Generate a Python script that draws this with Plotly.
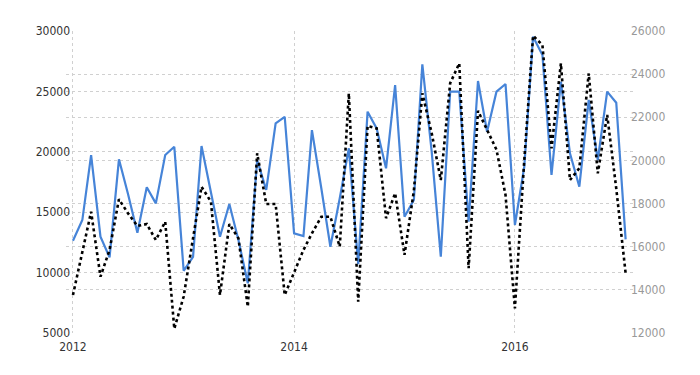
import plotly.graph_objects as go
import pandas as pd

months = pd.date_range("2012-01-01", "2017-01-01", freq="MS")

# Left axis series (blue, solid)
blue_values = [
    12640, 14350, 19730, 12970, 11260, 19380, 16500, 13300, 17060, 15730, 19730, 20420,
    10150, 11310, 20480, 16730, 12970, 15680, 12700, 9110, 19320, 16840, 22360, 22900,
    13250, 13030, 21800, 16980, 12140, 16150, 20290, 10700, 23320, 21940, 18630, 25530,
    14620, 16010, 27240, 20000, 11310, 24980, 24980, 14210, 25860, 21660, 24980, 25610,
    13940, 18760, 29530, 28010, 18080, 25800, 19870, 17110, 24290, 19320, 24980, 24060,
    12750,
]

# Right axis series (black, dotted)
black_values = [
    13760, 15690, 17620, 14610, 15850, 18200, 17550, 16960, 17050, 16310, 17160, 12200,
    13690, 16400, 18780, 18090, 13760, 17050, 16390, 13220, 20330, 17980, 17980, 13760,
    14800, 15850, 16620, 17390, 17390, 16000, 23110, 13450, 21600, 21490, 17320, 18480,
    15620, 18600, 23110, 21260, 19090, 23580, 24500, 15000, 22300, 21410, 20500, 18400,
    13140, 20020, 25780, 25350, 20560, 24500, 19090, 19640, 24040, 19400, 22110, 18700,
    14770,
]

left_ticks = [5000, 10000, 15000, 20000, 25000, 30000]
right_ticks = [12000, 14000, 16000, 18000, 20000, 22000, 24000, 26000]
x_ticks = ["2012-01-01", "2014-01-01", "2016-01-01"]
x_tick_labels = ["2012", "2014", "2016"]

FONT = "DejaVu Sans Condensed, Liberation Sans Narrow, Arial Narrow, Liberation Sans, sans-serif"

fig = go.Figure()
fig.add_trace(go.Scatter(
    x=months, y=blue_values, mode="lines",
    line=dict(color="#4684d8", width=2.2),
    yaxis="y", showlegend=False,
))
fig.add_trace(go.Scatter(
    x=months, y=black_values, mode="lines",
    line=dict(color="#000000", width=2.6, dash="dot"),
    yaxis="y2", showlegend=False,
))

fig.update_layout(
    width=692, height=367,
    margin=dict(l=58, r=65, t=23, b=42),
    paper_bgcolor="white", plot_bgcolor="white",
    xaxis=dict(
        range=["2011-12-09", "2017-02-01"],
        tickvals=x_ticks, ticktext=x_tick_labels,
        showgrid=True, gridcolor="#d0d0d0", griddash="dot", gridwidth=1,
        zeroline=False, showline=False, ticks="",
        ticklabelstandoff=5,
        tickfont=dict(family=FONT, size=12, color="#333333"),
    ),
    yaxis=dict(
        range=[5000, 30000], tickvals=left_ticks,
        ticktext=[str(v) for v in left_ticks],
        showgrid=True, gridcolor="#d0d0d0", griddash="dot", gridwidth=1,
        zeroline=False, showline=False, ticks="",
        ticklabelstandoff=-5,
        tickfont=dict(family=FONT, size=12, color="#333333"),
    ),
    yaxis2=dict(
        range=[12000, 26000], tickvals=right_ticks,
        ticktext=[str(v) for v in right_ticks],
        overlaying="y", side="right",
        showgrid=True, gridcolor="#d0d0d0", griddash="dot", gridwidth=1,
        zeroline=False, showline=False, ticks="",
        ticklabelstandoff=-5,
        tickfont=dict(family=FONT, size=12, color="#999999"),
    ),
)

fig.write_html("out.html")
